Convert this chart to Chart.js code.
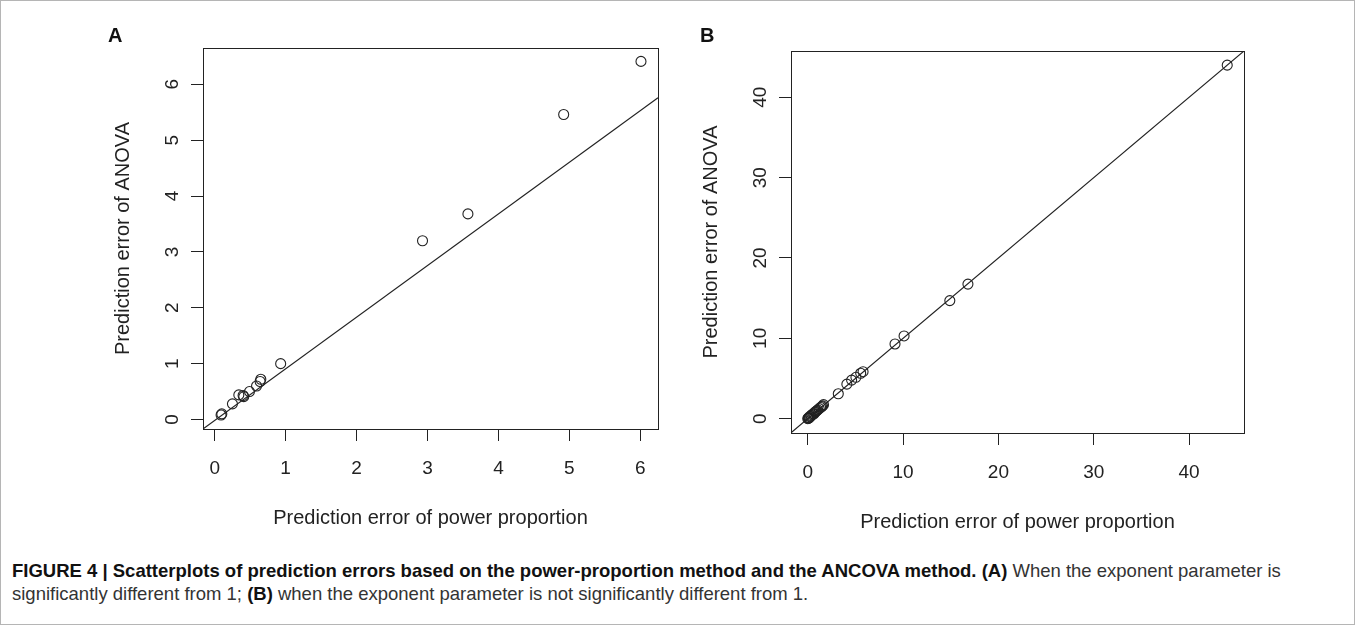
<!DOCTYPE html>
<html>
<head>
<meta charset="utf-8">
<script src="https://cdn.jsdelivr.net/npm/chart.js@4.4.0/dist/chart.umd.min.js"></script>
<style>
  html, body { margin: 0; padding: 0; background: #fff; }
  #page { position: relative; width: 1355px; height: 625px; overflow: hidden;
          font-family: "Liberation Sans", Arial, Helvetica, sans-serif; color: #222; }
  #frame { position: absolute; left: 0; top: 0; width: 1353px; height: 623px;
           border: 1px solid #b5b5b5; pointer-events: none; }
  canvas { position: absolute; top: 0; }
  #cvA { left: 0; }
  #cvB { left: 680px; }
  .letter { position: absolute; font-weight: bold; font-size: 20px; line-height: 20px; color: #111; }
  #caption { position: absolute; left: 12px; top: 559px; font-size: 18.5px; line-height: 23px;
             color: #333; white-space: nowrap; }
  #caption b { color: #111; }
</style>
</head>
<body>
<div id="page">
  <canvas id="cvA" width="680" height="540"></canvas>
  <canvas id="cvB" width="675" height="540"></canvas>
  <div class="letter" style="left:108px;top:25px;">A</div>
  <div class="letter" style="left:700px;top:25px;">B</div>
  <div id="caption"><b>FIGURE 4 | Scatterplots of prediction errors based on the power-proportion method and the ANCOVA method. (A)</b> When the exponent parameter is<br>significantly different from 1; <b>(B)</b> when the exponent parameter is not significantly different from 1.</div>
  <div id="frame"></div>
</div>

<script>
// Panel A: exponent significantly different from 1
const errPowerA = [0.09, 0.10, 0.25, 0.34, 0.40, 0.41, 0.49, 0.59, 0.64, 0.65, 0.93, 2.93, 3.57, 4.92, 6.01];
const errAnovaA = [0.08, 0.10, 0.28, 0.44, 0.43, 0.41, 0.50, 0.60, 0.68, 0.72, 1.00, 3.20, 3.68, 5.46, 6.41];
const fitLineAx = [-0.165, 6.25];
const fitLineAy = [-0.17, 5.76];
const xTicksA   = [0, 1, 2, 3, 4, 5, 6];
const yTicksA   = [0, 1, 2, 3, 4, 5, 6];
const xLimA     = [-0.165, 6.25];
const yLimA     = [-0.17, 6.65];

// Panel B: exponent not significantly different from 1
const errPowerB = [0.00, 0.05, 0.10, 0.15, 0.20, 0.30, 0.35, 0.45, 0.55, 0.65, 0.75, 0.85, 0.95, 1.05, 1.20,
                   1.35, 1.45, 1.55, 1.65, 3.20, 4.10, 4.60, 5.05, 5.55, 5.80, 9.15, 10.10, 14.90, 16.80, 44.00];
const errAnovaB = [0.00, 0.05, 0.12, 0.10, 0.25, 0.28, 0.40, 0.50, 0.60, 0.62, 0.80, 0.90, 1.00, 1.10, 1.25,
                   1.40, 1.50, 1.60, 1.75, 3.10, 4.30, 4.80, 5.15, 5.65, 5.85, 9.30, 10.30, 14.70, 16.75, 44.00];
const fitLineBx = [-1.76, 45.76];
const fitLineBy = [-1.76, 45.76];
const xTicksB   = [0, 10, 20, 30, 40];
const yTicksB   = [0, 10, 20, 30, 40];
const xLimB     = [-1.76, 45.76];
const yLimB     = [-1.78, 45.76];

const xTitle = "Prediction error of power proportion";
const yTitle = "Prediction error of ANOVA";

const INK = "#222";
const FONT = '"Liberation Sans", Arial, sans-serif';

// R-style box, rotated y labels and axis titles
const rFrame = {
  id: "rFrame",
  afterDraw(chart) {
    const { ctx, chartArea: a, scales } = chart;
    ctx.save();
    ctx.strokeStyle = INK;
    ctx.lineWidth = 1;
    ctx.strokeRect(Math.round(a.left) + 0.5, Math.round(a.top) + 0.5,
                   Math.round(a.right - a.left), Math.round(a.bottom - a.top));

    ctx.fillStyle = INK;
    ctx.font = "19px " + FONT;
    ctx.textAlign = "center";
    ctx.textBaseline = "alphabetic";
    scales.y.ticks.forEach(t => {
      ctx.save();
      ctx.translate(a.left - 25, scales.y.getPixelForValue(t.value));
      ctx.rotate(-Math.PI / 2);
      ctx.fillText(String(t.value), 0, 0);
      ctx.restore();
    });

    ctx.font = "20px " + FONT;
    ctx.textBaseline = "middle";
    ctx.fillText(xTitle, (a.left + a.right) / 2, a.bottom + 89);
    ctx.save();
    ctx.translate(a.left - 80, (a.top + a.bottom) / 2);
    ctx.rotate(-Math.PI / 2);
    ctx.fillText(yTitle, 0, 0);
    ctx.restore();
    ctx.restore();
  }
};

function toPoints(xs, ys) {
  return xs.map((x, i) => ({ x, y: ys[i] }));
}

function makePanel(id, cfg) {
  const axis = (lim, ticks, fit) => ({
    type: "linear",
    min: lim[0],
    max: lim[1],
    afterBuildTicks: s => { s.ticks = ticks.map(v => ({ value: v })); },
    afterFit: fit,
    grid: { drawOnChartArea: false, drawTicks: true, tickLength: 12, color: INK, lineWidth: 1 },
    border: { display: false }
  });

  const xAxis = axis(cfg.xLim, cfg.xTicks, s => { s.height = cfg.bottomH; });
  xAxis.ticks = { font: { family: FONT, size: 19 }, color: INK, padding: 16, maxRotation: 0, autoSkip: false };
  const yAxis = axis(cfg.yLim, cfg.yTicks, s => { s.width = cfg.leftW; });
  yAxis.ticks = { display: false };

  return new Chart(document.getElementById(id).getContext("2d"), {
    type: "scatter",
    data: {
      datasets: [
        {
          type: "line",
          data: toPoints(cfg.lineX, cfg.lineY),
          borderColor: INK,
          borderWidth: 1.1,
          pointRadius: 0,
          fill: false,
          clip: 0
        },
        {
          data: toPoints(cfg.xs, cfg.ys),
          pointStyle: "circle",
          pointRadius: 5,
          pointBorderWidth: 1.1,
          borderColor: INK,
          backgroundColor: "rgba(0,0,0,0)",
          clip: false
        }
      ]
    },
    options: {
      responsive: false,
      animation: false,
      events: [],
      layout: { padding: cfg.padding },
      scales: { x: xAxis, y: yAxis },
      plugins: { legend: { display: false }, tooltip: { enabled: false } }
    },
    plugins: [rFrame]
  });
}

makePanel("cvA", {
  xs: errPowerA, ys: errAnovaA, lineX: fitLineAx, lineY: fitLineAy,
  xTicks: xTicksA, yTicks: yTicksA, xLim: xLimA, yLim: yLimA,
  padding: { top: 48, right: 22, left: 0, bottom: 0 }, leftW: 203, bottomH: 111
});

makePanel("cvB", {
  xs: errPowerB, ys: errAnovaB, lineX: fitLineBx, lineY: fitLineBy,
  xTicks: xTicksB, yTicks: yTicksB, xLim: xLimB, yLim: yLimB,
  padding: { top: 51, right: 111, left: 0, bottom: 0 }, leftW: 111, bottomH: 107
});
</script>
</body>
</html>
